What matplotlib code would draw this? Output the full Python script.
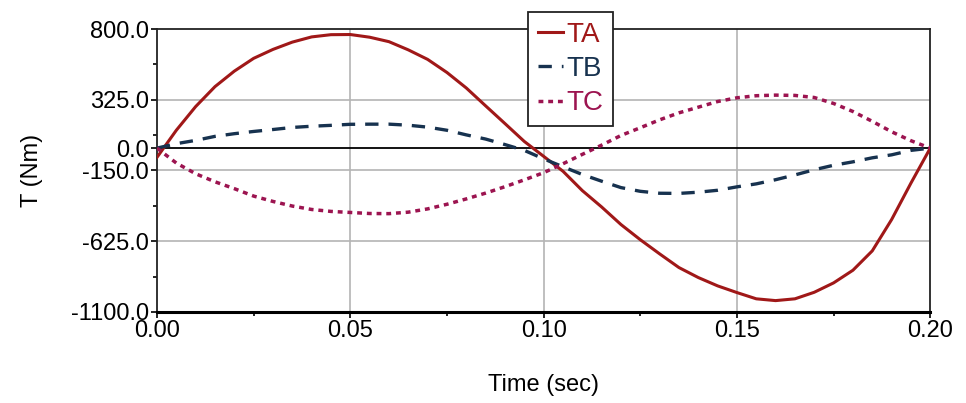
import numpy as np
import matplotlib
matplotlib.use("Agg")
import matplotlib.pyplot as plt
from matplotlib.ticker import MultipleLocator, FixedLocator, FormatStrFormatter

# =========================
# Data
# =========================
time_s = np.linspace(0.0, 0.2, 41)

ta = [-62, 120, 279, 413, 517, 603, 663, 712, 747, 762,
      763, 745, 715, 660, 596, 508, 404, 284, 165, 45,
      -55, -155, -285, -395, -513, -615, -710, -802, -869, -925,
      -970, -1012, -1024, -1012, -968, -905, -820, -690, -480, -235,
      0]

tb = [0, 30, 52, 79, 97, 112, 125, 139, 147, 153,
      160, 161, 161, 154, 141, 120, 89, 61, 24, -15,
      -72, -125, -177, -222, -265, -290, -303, -304, -296, -283,
      -260, -240, -212, -180, -145, -115, -92, -65, -45, -15,
      0]

tc = [0, -100, -172, -226, -272, -322, -358, -389, -412, -425,
      -432, -439, -440, -430, -408, -377, -341, -302, -259, -213,
      -165, -105, -42, 20, 85, 137, 190, 237, 275, 313,
      338, 352, 356, 354, 340, 300, 246, 180, 110, 50,
      0]

y_ticks = [-1100.0, -625.0, -150.0, 0.0, 325.0, 800.0]
x_ticks = [0.00, 0.05, 0.10, 0.15, 0.20]

# =========================
# Plot
# =========================
plt.rcParams["font.family"] = ["Liberation Sans", "DejaVu Sans"]

fig = plt.figure(figsize=(9.66, 4.03), dpi=100)
ax = fig.add_axes([0.1625, 0.226, 0.8005, 0.702])

c_ta = "#a01818"
c_tb = "#17324f"
c_tc = "#9c1450"

ax.plot(time_s, ta, color=c_ta, linewidth=2.2, label="TA", zorder=4)
ax.plot(time_s, tb, color=c_tb, linewidth=2.4, linestyle=(0, (4, 3)), label="TB", zorder=4)
ax.plot(time_s, tc, color=c_tc, linewidth=2.5, linestyle=(0, (1.4, 1.4)), label="TC", zorder=4)

ax.axhline(0, color="black", linewidth=1.3, zorder=3)

ax.set_xlim(0, 0.2)
ax.set_ylim(-1100, 800)

ax.set_xticks(x_ticks)
ax.xaxis.set_minor_locator(MultipleLocator(0.025))
ax.xaxis.set_major_formatter(FormatStrFormatter("%.2f"))

ax.set_yticks(y_ticks)
ax.yaxis.set_minor_locator(FixedLocator([562.5, 87.5, -387.5, -862.5]))
ax.yaxis.set_major_formatter(FormatStrFormatter("%.1f"))

# grid only at the non-zero majors
for y in [325, -150, -625]:
    ax.axhline(y, color="#b4b4b4", linewidth=1.2, zorder=1)
for x in [0.05, 0.10, 0.15]:
    ax.axvline(x, color="#b4b4b4", linewidth=1.2, zorder=1)

ax.tick_params(axis="both", which="major", direction="out", length=4, width=1.2,
               labelsize=17, colors="black")
ax.tick_params(axis="both", which="minor", direction="out", length=3, width=1.2)
ax.tick_params(axis="x", pad=2)
ax.tick_params(axis="y", pad=2)

for side in ["top", "right", "left"]:
    ax.spines[side].set_linewidth(1.3)
    ax.spines[side].set_color("#222222")
ax.spines["bottom"].set_linewidth(2.2)
ax.spines["bottom"].set_color("black")

ax.set_xlabel("Time (sec)", fontsize=17, labelpad=23)
ax.set_ylabel("T (Nm)", fontsize=17, labelpad=20)

leg = ax.legend(loc="upper left", bbox_to_anchor=(0.48, 1.06), frameon=True,
                fancybox=False, fontsize=20, handlelength=0.9, handletextpad=0.12,
                borderpad=0.35, labelspacing=0.3, borderaxespad=0)
leg.get_frame().set_edgecolor("#222222")
leg.get_frame().set_linewidth(1.3)
leg.get_frame().set_alpha(1)
leg.set_zorder(6)
for txt, col in zip(leg.get_texts(), [c_ta, c_tb, c_tc]):
    txt.set_color(col)

fig.savefig("out.png", dpi=100)
